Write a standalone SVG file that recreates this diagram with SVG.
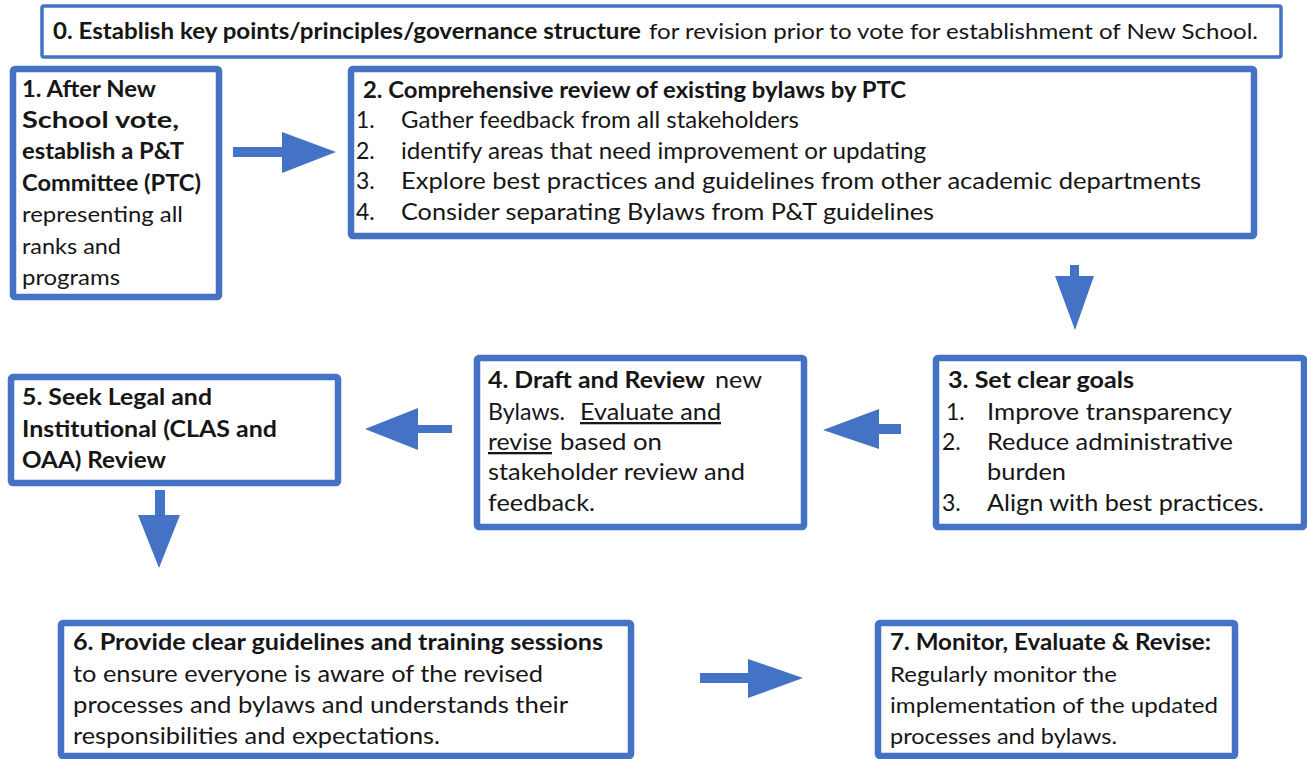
<svg xmlns="http://www.w3.org/2000/svg" width="1307" height="759" viewBox="0 0 1307 759">
  <style>
    .box { fill: #ffffff; stroke: #4472c4; stroke-width: 6.5; }
    .thin { fill: #ffffff; stroke: #4472c4; stroke-width: 3.5; }
    .arrow { fill: #4472c4; }
    text { font-family: Lato, "Liberation Sans", sans-serif; fill: #161616; }
    .h { font-size: 22px; font-weight: 700; }
    .c { font-size: 22px; }
    .b { font-size: 23px; }
    .u { text-decoration: underline; }
  </style>
  <rect width="1307" height="759" fill="#ffffff"/>

  <!-- connectors: block arrows between the steps -->
  <g id="connectors">
    <polygon class="arrow" points="233,147 282,147 282,132 336,152 282,173 282,157 233,157"/>
    <polygon class="arrow" points="1070,265 1079,265 1079,276 1094,276 1075,330 1055,276 1070,276"/>
    <polygon class="arrow" points="901,424 879,424 879,409 823,430 879,449 879,434 901,434"/>
    <polygon class="arrow" points="452,425 418,425 418,408 365,429 418,450 418,433 452,433"/>
    <polygon class="arrow" points="155,490 165,490 165,515 180,515 159,568 138,515 155,515"/>
    <polygon class="arrow" points="700,673 748,673 748,659 803,678 748,698 748,683 700,683"/>
  </g>

  <g id="step0">
    <rect class="thin" x="42" y="6" width="1239" height="51" rx="2"/>
    <text class="h" x="53" y="39" font-size="21" textLength="588" lengthAdjust="spacingAndGlyphs">0. Establish key points/principles/governance structure</text>
    <text class="c" x="649" y="39" font-size="21" textLength="609" lengthAdjust="spacingAndGlyphs">for revision prior to vote for establishment of New School.</text>
  </g>

  <g id="step1">
    <rect class="box" x="13" y="69" width="206" height="228" rx="2"/>
    <text class="h" x="22" y="97" textLength="134" lengthAdjust="spacingAndGlyphs">1. After New</text>
    <text class="h" x="22" y="128" textLength="157" lengthAdjust="spacingAndGlyphs">School vote,</text>
    <text class="h" x="22" y="159" textLength="162" lengthAdjust="spacingAndGlyphs">establish a P&amp;T</text>
    <text class="h" x="22" y="191" textLength="179" lengthAdjust="spacingAndGlyphs">Committee (PTC)</text>
    <text class="c" x="22" y="222" textLength="161" lengthAdjust="spacingAndGlyphs">representing all</text>
    <text class="c" x="22" y="254" textLength="99" lengthAdjust="spacingAndGlyphs">ranks and</text>
    <text class="c" x="22" y="285" textLength="98" lengthAdjust="spacingAndGlyphs">programs</text>
  </g>

  <g id="step2">
    <rect class="box" x="351" y="69" width="903" height="167" rx="2"/>
    <text class="h" x="363" y="98" textLength="543" lengthAdjust="spacingAndGlyphs">2. Comprehensive review of existing bylaws by PTC</text>
    <text class="b" x="356" y="128">1.</text>
    <text class="b" x="401" y="128" textLength="398" lengthAdjust="spacingAndGlyphs">Gather feedback from all stakeholders</text>
    <text class="b" x="356" y="159">2.</text>
    <text class="b" x="401" y="159" textLength="525" lengthAdjust="spacingAndGlyphs">identify areas that need improvement or updating</text>
    <text class="b" x="356" y="189">3.</text>
    <text class="b" x="401" y="189" textLength="800" lengthAdjust="spacingAndGlyphs">Explore best practices and guidelines from other academic departments</text>
    <text class="b" x="356" y="220">4.</text>
    <text class="b" x="401" y="220" textLength="533" lengthAdjust="spacingAndGlyphs">Consider separating Bylaws from P&amp;T guidelines</text>
  </g>

  <g id="step3">
    <rect class="box" x="936" y="358" width="368" height="169" rx="2"/>
    <text class="h" x="948" y="388" textLength="186" lengthAdjust="spacingAndGlyphs">3. Set clear goals</text>
    <text class="b" x="946" y="420">1.</text>
    <text class="b" x="987" y="420" textLength="245" lengthAdjust="spacingAndGlyphs">Improve transparency</text>
    <text class="b" x="942" y="450">2.</text>
    <text class="b" x="987" y="450" textLength="246" lengthAdjust="spacingAndGlyphs">Reduce administrative</text>
    <text class="b" x="987" y="480" textLength="79" lengthAdjust="spacingAndGlyphs">burden</text>
    <text class="b" x="942" y="511">3.</text>
    <text class="b" x="987" y="511" textLength="277" lengthAdjust="spacingAndGlyphs">Align with best practices.</text>
  </g>

  <g id="step4">
    <rect class="box" x="477" y="358" width="327" height="169" rx="2"/>
    <text class="h" x="488" y="388" textLength="217" lengthAdjust="spacingAndGlyphs">4. Draft and Review</text>
    <text class="b" x="715" y="388" textLength="47" lengthAdjust="spacingAndGlyphs">new</text>
    <text class="b" x="488" y="420" textLength="77" lengthAdjust="spacingAndGlyphs">Bylaws.</text>
    <text class="b u" x="580" y="420" textLength="141" lengthAdjust="spacingAndGlyphs">Evaluate and</text>
    <text class="b u" x="488" y="450" textLength="64" lengthAdjust="spacingAndGlyphs">revise</text>
    <text class="b" x="560" y="450" textLength="102" lengthAdjust="spacingAndGlyphs">based on</text>
    <text class="b" x="488" y="480" textLength="257" lengthAdjust="spacingAndGlyphs">stakeholder review and</text>
    <text class="b" x="488" y="511" textLength="107" lengthAdjust="spacingAndGlyphs">feedback.</text>
  </g>

  <g id="step5">
    <rect class="box" x="11" y="377" width="327" height="106" rx="2"/>
    <text class="h" x="22" y="405" textLength="190" lengthAdjust="spacingAndGlyphs">5. Seek Legal and</text>
    <text class="h" x="22" y="437" textLength="255" lengthAdjust="spacingAndGlyphs">Institutional (CLAS and</text>
    <text class="h" x="22" y="468" textLength="144" lengthAdjust="spacingAndGlyphs">OAA) Review</text>
  </g>

  <g id="step6">
    <rect class="box" x="61" y="623" width="570" height="133" rx="2"/>
    <text class="h" x="73" y="650" textLength="530" lengthAdjust="spacingAndGlyphs">6. Provide clear guidelines and training sessions</text>
    <text class="b" x="73" y="682" textLength="470" lengthAdjust="spacingAndGlyphs">to ensure everyone is aware of the revised</text>
    <text class="b" x="73" y="713" textLength="495" lengthAdjust="spacingAndGlyphs">processes and bylaws and understands their</text>
    <text class="b" x="73" y="744" textLength="367" lengthAdjust="spacingAndGlyphs">responsibilities and expectations.</text>
  </g>

  <g id="step7">
    <rect class="box" x="878" y="623" width="357" height="133" rx="2"/>
    <text class="h" x="890" y="650" textLength="321" lengthAdjust="spacingAndGlyphs">7. Monitor, Evaluate &amp; Revise:</text>
    <text class="c" x="890" y="682" textLength="227" lengthAdjust="spacingAndGlyphs">Regularly monitor the</text>
    <text class="c" x="890" y="713" textLength="328" lengthAdjust="spacingAndGlyphs">implementation of the updated</text>
    <text class="c" x="890" y="744" textLength="227" lengthAdjust="spacingAndGlyphs">processes and bylaws.</text>
  </g>
</svg>
